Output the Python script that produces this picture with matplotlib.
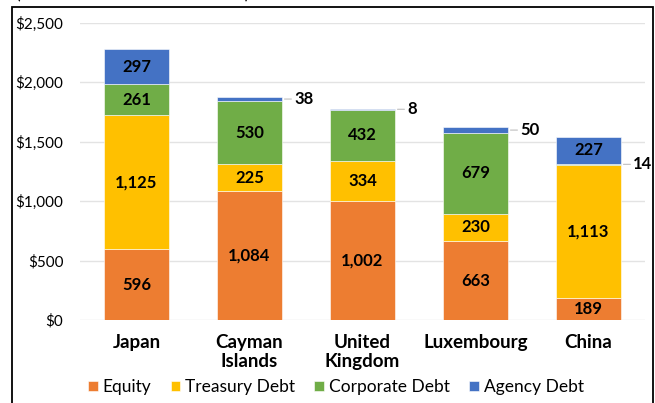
import numpy as np
import matplotlib.pyplot as plt
from matplotlib.patches import Rectangle

plt.rcParams['font.family'] = ['Lato', 'DejaVu Sans']

# Data (billions of dollars)
countries = ["Japan", "Cayman\nIslands", "United\nKingdom", "Luxembourg", "China"]
series = ["Equity", "Treasury Debt", "Corporate Debt", "Agency Debt"]
equity = [596, 1084, 1002, 663, 189]
treasury = [1125, 225, 334, 230, 1113]
corporate = [261, 530, 432, 679, 14]
agency = [297, 38, 8, 50, 227]
colors = ["#ED7D31", "#FFC000", "#70AD47", "#4472C4"]

values = [equity, treasury, corporate, agency]
x = np.arange(len(countries))
width = 0.57
small = 100  # segments below this get an outside label

fig = plt.figure(figsize=(6.55, 4.03), dpi=100)
ax = fig.add_axes([80 / 655, 1 - 320 / 403, 565 / 655, 297.3 / 403])

bottom = np.zeros(len(countries))
for name, vals, col in zip(series, values, colors):
    vals = np.array(vals, dtype=float)
    ax.bar(x, vals, width, bottom=bottom, color=col, label=name,
           edgecolor="white", linewidth=0.4, zorder=3)
    for i, v in enumerate(vals):
        mid = bottom[i] + v / 2
        if v >= small:
            ax.text(x[i], mid, f"{int(v):,}", ha="center", va="center",
                    fontsize=12, fontweight="bold", color="black", zorder=4)
        else:
            ax.annotate(f"{int(v):,}", xy=(x[i] + width / 2, mid),
                        xytext=(9, 0), textcoords="offset points",
                        ha="left", va="center", fontsize=12, fontweight="bold",
                        arrowprops=dict(arrowstyle="-", color="#BFBFBF", lw=0.8,
                                        shrinkA=0, shrinkB=2))
    bottom += vals

ax.set_xlim(-0.5, len(countries) - 0.5)
ax.set_ylim(0, 2500)
ax.set_yticks(np.arange(0, 2501, 500))
ax.set_yticklabels([f"${v:,}" for v in range(0, 2501, 500)], fontsize=11)
ax.set_xticks(x)
ax.set_xticklabels(countries, fontsize=13.5, fontweight="bold", linespacing=1.15)
ax.tick_params(axis="y", length=0, pad=12)
ax.tick_params(axis="x", length=0, pad=10)
ax.grid(axis="y", color="#E3E3E3", linewidth=1, zorder=0)
ax.set_axisbelow(True)
for s in ax.spines.values():
    s.set_visible(False)

fig.legend(loc="center", bbox_to_anchor=(336 / 655, 1 - 387 / 403), ncol=4,
           frameon=False, fontsize=12.5, handlelength=0.55, handleheight=0.55,
           handletextpad=0.3, columnspacing=1.1)

# outer frame
fig.patches.append(Rectangle((12 / 655, -0.05), 641 / 655, 1 - 7 / 403 + 0.05,
                             transform=fig.transFigure, fill=False,
                             edgecolor="black", linewidth=1.3))

# cut-off subtitle at the very top
fig.text(16 / 655, 1 + 0.5 / 403, "(Billions of dollars as of 2020)",
         ha="left", va="baseline", fontsize=13)

fig.savefig("out.png", dpi=100)
